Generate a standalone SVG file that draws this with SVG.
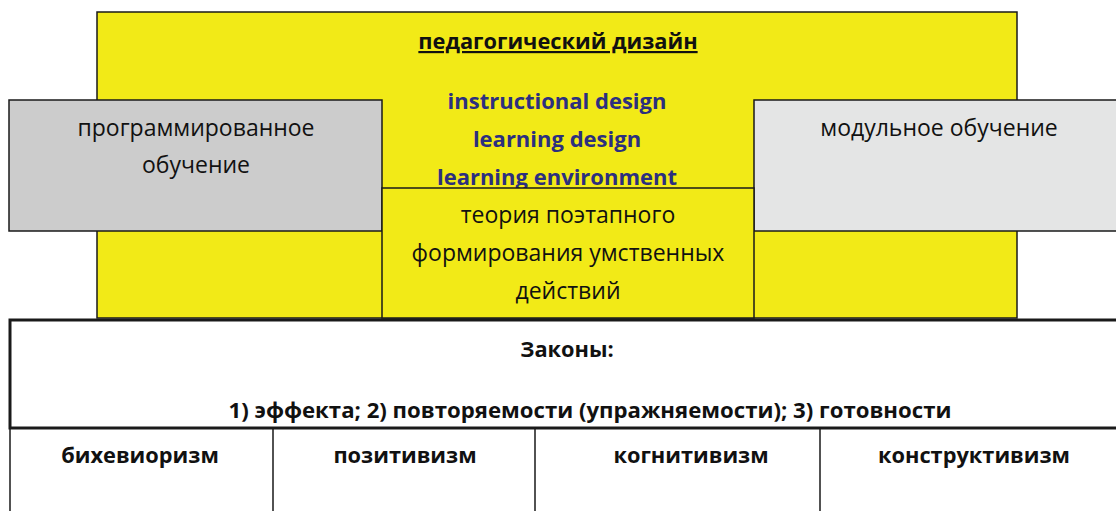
<svg xmlns="http://www.w3.org/2000/svg" width="1116" height="511" viewBox="0 0 1116 511">
<style>
.box{stroke:#1a1a1a;stroke-width:1.5}
.y{fill:#f2ea17}
.t{font-family:"Open Sans","Noto Sans",sans-serif;font-size:23px;fill:#111;text-anchor:middle}
.b{font-weight:bold;font-size:21.8px}
.blue{fill:#2c2f7f;font-weight:bold;font-size:22px}
.ln{stroke:#1a1a1a;fill:none}
</style>
<rect width="1116" height="511" fill="#fff"/>
<g id="ped-design">
<rect class="box y" x="97" y="12" width="920" height="306"/>
<text class="t b" x="558" y="49" text-decoration="underline">педагогический дизайн</text>
<text class="t blue" x="557" y="109">instructional design</text>
<text class="t blue" x="557" y="147">learning design</text>
<text class="t blue" x="557" y="185">learning environment</text>
</g>
<g id="programmed">
<rect class="box" fill="#cccccc" x="9" y="100" width="373" height="131"/>
<text class="t" x="196" y="136">программированное</text>
<text class="t" x="196" y="173">обучение</text>
</g>
<g id="modular">
<rect class="box" fill="#e4e5e5" x="754" y="100" width="370" height="131"/>
<text class="t" x="939" y="136">модульное обучение</text>
</g>
<g id="galperin">
<rect class="box y" x="382" y="188" width="372" height="130"/>
<text class="t" x="568" y="223">теория поэтапного</text>
<text class="t" x="568" y="261">формирования умственных</text>
<text class="t" x="568" y="299">действий</text>
</g>
<g id="laws">
<rect x="10" y="320" width="1112" height="108" fill="#fff" stroke="#1a1a1a" stroke-width="3"/>
<text class="t b" x="567" y="357">Законы:</text>
<text class="t b" x="590" y="418" style="font-size:22.2px">1) эффекта; 2) повторяемости (упражняемости); 3) готовности</text>
</g>
<g id="columns">
<path class="ln" stroke-width="1.5" d="M10 429V520M273 429V520M535 429V520M820 429V520"/>
<text class="t b" x="140" y="463">бихевиоризм</text>
<text class="t b" x="405" y="463">позитивизм</text>
<text class="t b" x="691" y="463">когнитивизм</text>
<text class="t b" x="974" y="463">конструктивизм</text>
</g>
</svg>
